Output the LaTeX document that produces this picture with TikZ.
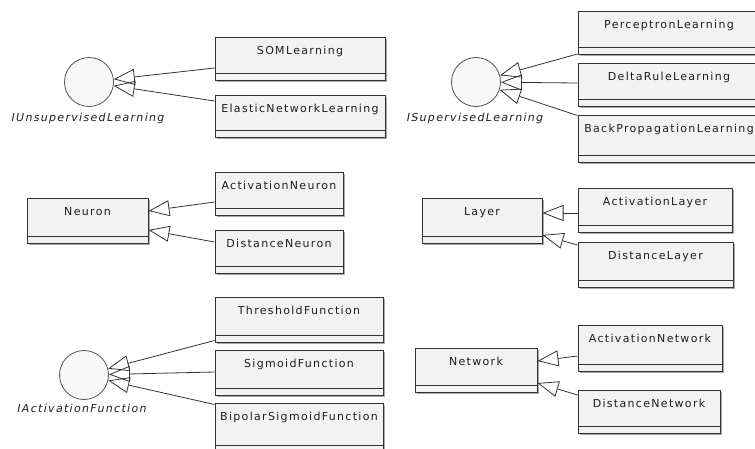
\documentclass[tikz,border=0pt]{standalone}
\usepackage{fontspec}
\usetikzlibrary{arrows.meta,fit,shadows}
\newfontfamily\clsfont{DejaVu Sans}[LetterSpace=12]
\definecolor{boxfill}{HTML}{F2F2F2}
\definecolor{boxline}{HTML}{333333}
\definecolor{shadowc}{HTML}{A0A0A0}
\definecolor{txt}{HTML}{1E1E1E}
\tikzset{
  clsbox/.style={draw=boxline, fill=boxfill, line width=1pt, inner sep=0pt, rectangle,
    drop shadow={shadow xshift=2.2pt, shadow yshift=-2.2pt, fill=shadowc, opacity=0.9}},
  clstext/.style={anchor=base, inner sep=0pt, text=txt, font=\clsfont\fontsize{11}{13}\selectfont},
  ilabel/.style={anchor=base, inner sep=0pt, text=txt, font=\clsfont\itshape\fontsize{11}{13}\selectfont},
  compline/.style={draw=boxline, line width=1pt},
  iface/.style={circle, draw=boxline!85, fill=boxfill!50, line width=0.8pt, minimum size=49pt, inner sep=0pt},
  gen/.style={draw=boxline, line width=0.8pt, -{Triangle[open, length=21pt, width=16pt, line width=0.8pt]}}
}
\newcommand{\umlclass}[6]{%
  \coordinate (#1-nw) at (#2,#3);
  \coordinate (#1-se) at (#4,#5);
  \node[clsbox, fit=(#1-nw)(#1-se)] (#1) {};
  \node[clstext] (#1-t) at ([yshift=-17.5pt]#1.north) {#6};
  \draw[compline] ([yshift=7.5pt]#1.south west) -- ([yshift=7.5pt]#1.south east);
}
\begin{document}
\begin{tikzpicture}[x=1pt,y=-1pt]
\useasboundingbox[fill=white] (0,0) rectangle (755,448);
\clip (0,0) rectangle (755,448);

% ---- top left: IUnsupervisedLearning
\node[iface] (iul) at (89,82) {};
\node[ilabel] (iul-l) at (88,121) {IUnsupervisedLearning};
\umlclass{som}{215}{37}{385}{80}{SOMLearning}
\umlclass{elastic}{215}{95}{385}{137}{ElasticNetworkLearning}
\draw[gen] ([yshift=-9.5pt]som.west) -- (iul);
\draw[gen] ([yshift=15pt]elastic.west) -- (iul);

% ---- top right: ISupervisedLearning
\node[iface] (isl) at (476,82) {};
\node[ilabel] (isl-l) at (475,121) {ISupervisedLearning};
\umlclass{perc}{578}{11}{760}{54}{PerceptronLearning}
\umlclass{delta}{578}{63}{760}{106}{DeltaRuleLearning}
\umlclass{bp}{578}{115}{760}{162}{BackPropagationLearning}
\draw[gen] ([yshift=0.5pt]perc.south west) -- (isl);
\draw[gen] ([yshift=1.5pt]delta.west) -- (isl);
\draw[gen] ([yshift=-1pt]bp.north west) -- (isl);

% ---- middle left: Neuron
\umlclass{neuron}{27}{198}{148}{243}{Neuron}
\umlclass{actn}{215}{172}{343}{215}{ActivationNeuron}
\umlclass{distn}{215}{230}{343}{273}{DistanceNeuron}
\draw[gen] ([yshift=-8.5pt]actn.west) -- ([yshift=9.5pt]neuron.east);
\draw[gen] ([yshift=9.5pt]distn.west) -- ([yshift=-9.5pt]neuron.east);

% ---- middle right: Layer
\umlclass{layer}{422}{198}{542}{243}{Layer}
\umlclass{actl}{578}{188}{732}{232}{ActivationLayer}
\umlclass{distl}{578}{242}{733}{287}{DistanceLayer}
\draw[gen] ([yshift=-3pt]actl.west) -- ([yshift=7.5pt]layer.east);
\draw[gen] ([yshift=19.5pt]distl.west) -- ([yshift=-14.5pt]layer.east);

% ---- bottom left: IActivationFunction
\node[iface] (iaf) at (84,375) {};
\node[ilabel] (iaf-l) at (82,412) {IActivationFunction};
\umlclass{thr}{215}{297}{383}{342}{ThresholdFunction}
\umlclass{sig}{215}{350}{383}{395}{SigmoidFunction}
\umlclass{bip}{215}{403}{383}{452}{BipolarSigmoidFunction}
\draw[gen] ([yshift=2pt]thr.south west) -- (iaf);
\draw[gen] ([yshift=0.5pt]sig.west) -- (iaf);
\draw[gen] ([yshift=-2pt]bip.north west) -- (iaf);

% ---- bottom right: Network
\umlclass{network}{415}{348}{537}{392}{Network}
\umlclass{actnet}{578}{325}{722}{371}{ActivationNetwork}
\umlclass{distnet}{578}{390}{720}{433}{DistanceNetwork}
\draw[gen] ([yshift=-8pt]actnet.west) -- ([yshift=9pt]network.east);
\draw[gen] ([yshift=16.5pt]distnet.west) -- ([yshift=-13pt]network.east);
\end{tikzpicture}
\end{document}
